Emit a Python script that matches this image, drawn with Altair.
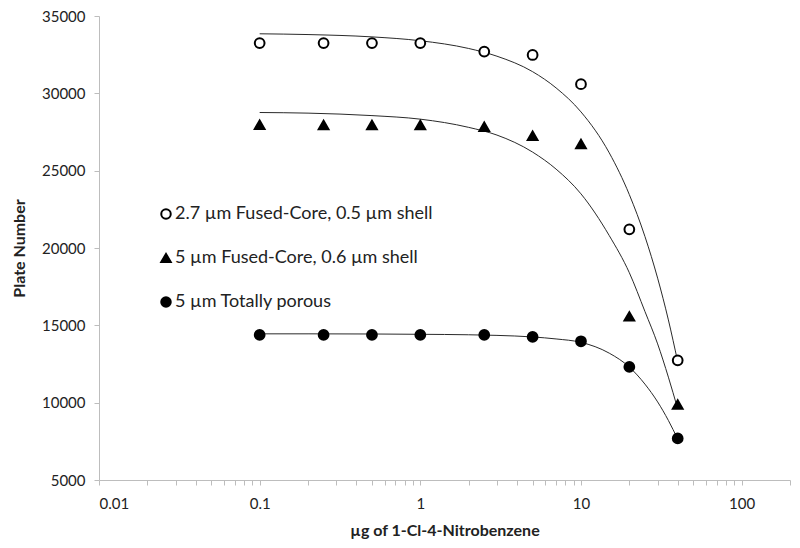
import altair as alt
import pandas as pd

series_names = [
    "2.7 µm Fused-Core, 0.5 µm shell",
    "5 µm Fused-Core, 0.6 µm shell",
    "5 µm Totally porous",
]

# measured points
load_ug = [0.1, 0.25, 0.5, 1, 2.5, 5, 10, 20, 40]
plates_fc27 = [33250, 33250, 33250, 33250, 32700, 32480, 30590, 21210, 12740]
plates_fc5 = [27970, 27950, 27950, 27950, 27840, 27260, 26720, 15580, 9880]
plates_tp5 = [14380, 14380, 14380, 14380, 14380, 14250, 13970, 12310, 7690]

# trend curves
fit_x = [0.1, 0.2, 0.5, 1, 2, 3, 5, 7, 10, 15, 20, 25, 30, 35, 40]
fit_fc27 = [33850, 33800, 33650, 33400, 32900, 32400, 31400, 30350, 28800, 26150, 23450, 20750, 18050, 15350, 12650]
fit_fc5 = [28760, 28720, 28560, 28330, 27800, 27300, 26200, 25100, 23500, 20800, 18400, 15900, 13800, 11650, 9600]
fit_tp5 = [14450, 14450, 14440, 14420, 14390, 14350, 14250, 14120, 13900, 13200, 12300, 11200, 10050, 8850, 7650]

y_ticks = [5000, 10000, 15000, 20000, 25000, 30000, 35000]
x_major = [0.01, 0.1, 1, 10, 100]
x_minor_mult = [1, 2, 3, 4, 5, 6, 7, 8, 9]

pts = pd.DataFrame({
    "x": load_ug * 3,
    "y": plates_fc27 + plates_fc5 + plates_tp5,
    "series": [series_names[0]] * 9 + [series_names[1]] * 9 + [series_names[2]] * 9,
})
fits = pd.DataFrame({
    "x": fit_x * 3,
    "y": fit_fc27 + fit_fc5 + fit_tp5,
    "series": [series_names[0]] * len(fit_x) + [series_names[1]] * len(fit_x) + [series_names[2]] * len(fit_x),
})

x_vals = [round(d * m, 6) for d in x_major for m in x_minor_mult if d * m <= 200]

FONT = "Lato"

x_enc = alt.X(
    "x:Q",
    scale=alt.Scale(type="log", domain=[0.01, 200], nice=False),
    axis=alt.Axis(
        title="µg of 1-Cl-4-Nitrobenzene",
        values=x_vals,
        labelExpr="indexof([0.01, 0.1, 1, 10, 100], datum.value) >= 0 ? format(datum.value, '~g') : ''",
        labelOverlap=False,
        grid=False,
        tickSize=5,
        labelPadding=11,
        titlePadding=11,
    ),
)
y_enc = alt.Y(
    "y:Q",
    scale=alt.Scale(domain=[5000, 35000], nice=False, zero=False),
    axis=alt.Axis(
        title="Plate Number",
        values=y_ticks,
        format="d",
        grid=False,
        tickSize=5,
        labelPadding=9,
        titlePadding=14,
    ),
)

lines = alt.Chart(fits).mark_line(
    color="#2a2a2a", strokeWidth=1, interpolate="monotone"
).encode(x=x_enc, y=y_enc, detail="series:N")

leg = alt.Legend(symbolStrokeColor="black", symbolStrokeWidth=2)

points = alt.Chart(pts).mark_point(
    strokeWidth=2, opacity=1, fillOpacity=1, size=95
).encode(
    x=x_enc,
    y=y_enc,
    shape=alt.Shape(
        "series:N",
        scale=alt.Scale(domain=series_names, range=["circle", "triangle-up", "circle"]),
        title=None,
        legend=leg,
    ),
    fill=alt.Fill(
        "series:N",
        scale=alt.Scale(domain=series_names, range=["white", "black", "black"]),
        title=None,
        legend=leg,
    ),
    stroke=alt.Stroke(
        "series:N",
        scale=alt.Scale(domain=series_names, range=["black", "black", "black"]),
        title=None,
        legend=leg,
    ),
)

chart = alt.layer(lines, points).properties(
    width=691,
    height=464,
    autosize="none",
    padding={"left": 91, "top": 8, "right": 2, "bottom": 60},
).configure_view(stroke=None).configure_axis(
    domainColor="#bdbdbd",
    tickColor="#bdbdbd",
    labelFont=FONT,
    labelFontSize=15,
    labelColor="#222",
    titleFont=FONT,
    titleFontSize=16,
    titleFontWeight="bold",
    titleColor="#222",
).configure_legend(
    orient="none",
    legendX=58,
    legendY=189,
    labelFontSize=18,
    labelFont=FONT,
    labelColor="#222",
    labelOffset=0,
    rowPadding=26,
    symbolSize=90,
    symbolStrokeColor="black",
    symbolStrokeWidth=2,
    labelLimit=400,
)

chart.save("out.html", embed_options={"renderer": "svg", "actions": False})
